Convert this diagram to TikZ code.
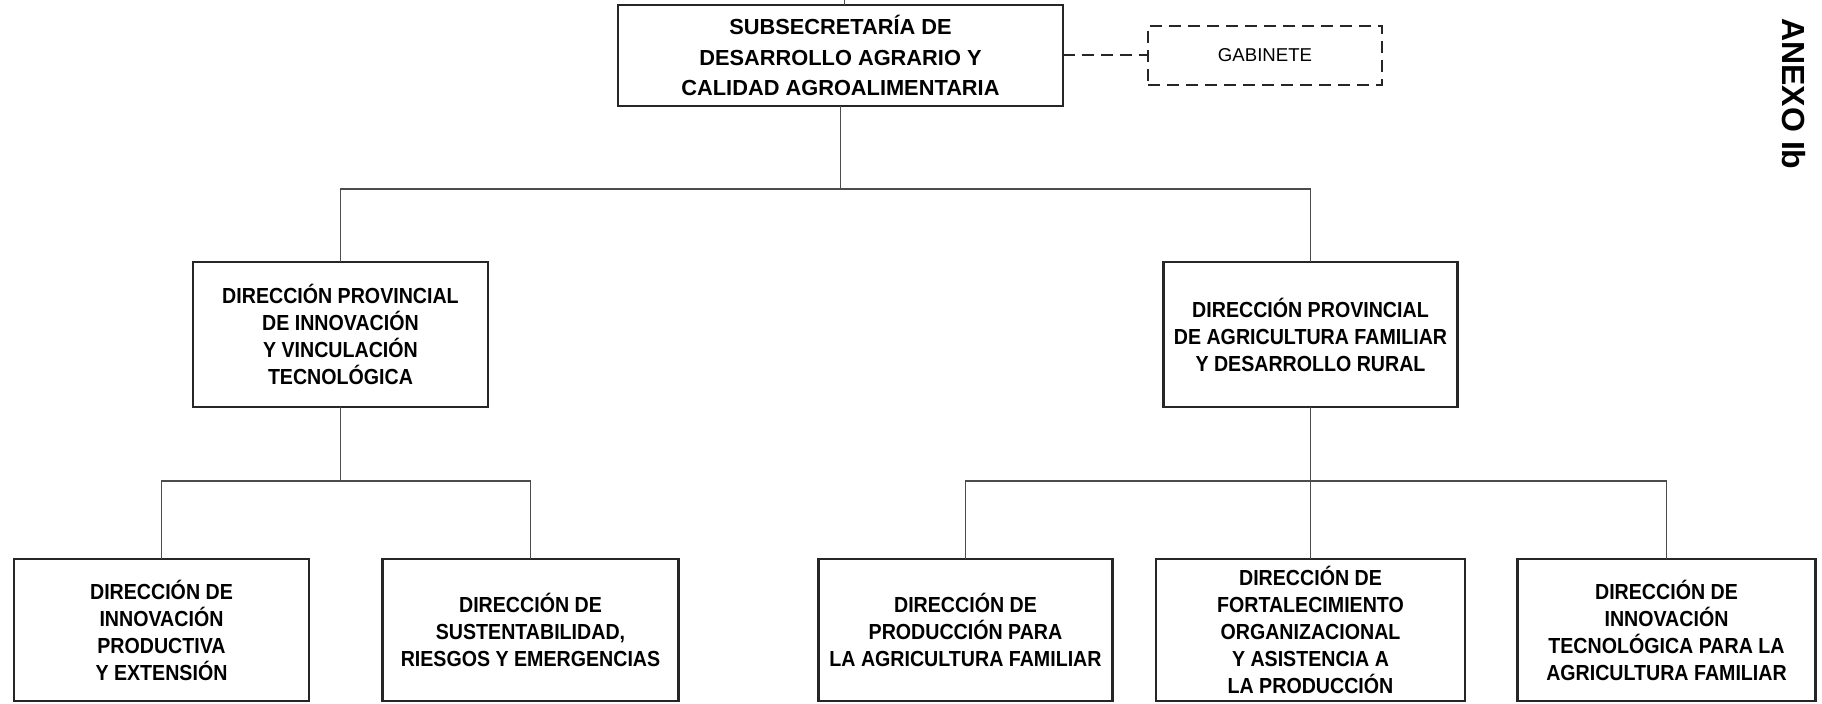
\documentclass[tikz,border=0pt]{standalone}
\usepackage{fontspec}
\setmainfont{Liberation Sans}
\newfontfamily\narrowfont[FakeStretch=0.9]{Liberation Sans}
\usetikzlibrary{positioning}

\begin{document}
\begin{tikzpicture}[node distance=76pt,line join=miter,
  box/.style={draw=black!85,line width=1.4pt,align=center,inner sep=2pt,outer sep=0pt,
    font=\narrowfont\bfseries\fontsize{10.9}{13.5}\selectfont,minimum width=147.5pt,minimum height=71pt},
  link/.style={draw=black!70,line width=0.6pt},
  dashbox/.style={draw=black!85,line width=1pt,dash pattern=on 6pt off 3.5pt}]
\useasboundingbox (-420.25pt,-324.25pt) rectangle (490.75pt,27.75pt);
\node [box,minimum width=222.5pt,minimum height=50.5pt,font=\bfseries\fontsize{10.9}{15.25}\selectfont] at (0,0) (s0) {SUBSECRETARÍA DE\\DESARROLLO AGRARIO Y\\CALIDAD AGROALIMENTARIA};
\node [box,dashbox,right=42.5pt of s0,minimum width=117pt,minimum height=29.5pt,font=\fontsize{9.3}{11}\selectfont] (g0) {GABINETE};
\node [box,below=78pt of s0,xshift=-250pt,minimum height=72.5pt] (s1) {DIRECCIÓN PROVINCIAL\\DE INNOVACIÓN\\Y VINCULACIÓN\\TECNOLÓGICA};
\node [box,below=78pt of s0,xshift=235pt,minimum height=72.5pt,minimum width=147pt] (s2) {DIRECCIÓN PROVINCIAL\\DE AGRICULTURA FAMILIAR\\Y DESARROLLO RURAL};
\node [box,below=76pt of s1,xshift=-89.5pt] (s3) {DIRECCIÓN DE\\INNOVACIÓN\\PRODUCTIVA\\Y EXTENSIÓN};
\node [box,below=76pt of s1,xshift=95pt,minimum width=148pt] (s4) {DIRECCIÓN DE\\SUSTENTABILIDAD,\\RIESGOS Y EMERGENCIAS};
\node [box,below=76pt of s2,xshift=-172.5pt,minimum width=147pt] (s5) {DIRECCIÓN DE\\PRODUCCIÓN PARA\\LA AGRICULTURA FAMILIAR};
\node [box,below=76pt of s2,minimum width=154.5pt] (s6) {DIRECCIÓN DE\\FORTALECIMIENTO\\ORGANIZACIONAL\\Y ASISTENCIA A\\LA PRODUCCIÓN};
\node [box,below=76pt of s2,xshift=178pt,minimum width=149pt] (s7) {DIRECCIÓN DE\\INNOVACIÓN\\TECNOLÓGICA PARA LA\\AGRICULTURA FAMILIAR};
\node [font=\bfseries\fontsize{16}{19}\selectfont,rotate=-90,inner sep=0pt] at (476.5pt,-19.25pt) (a0) {ANEXO Ib};
\coordinate [above=3pt of s0.north,xshift=2pt] (t0);
\draw [link] ([xshift=2pt]s0.north) -- (t0);
\draw [dashbox] (s0) -- (g0);
\draw [link] (s0.south) -- ++(0,-41.5pt) coordinate (b0);
\draw [link] (s1.north) |- (b0) -| (s2.north);
\draw [link] (s1.south) -- ++(0,-37pt) coordinate (b1);
\draw [link] (s3.north) |- (b1) -| (s4.north);
\draw [link] (s2.south) -- ++(0,-37pt) coordinate (b2);
\draw [link] (s5.north) |- (b2) -| (s7.north);
\draw [link] (b2) -- (s6.north);

\end{tikzpicture}
\end{document}
